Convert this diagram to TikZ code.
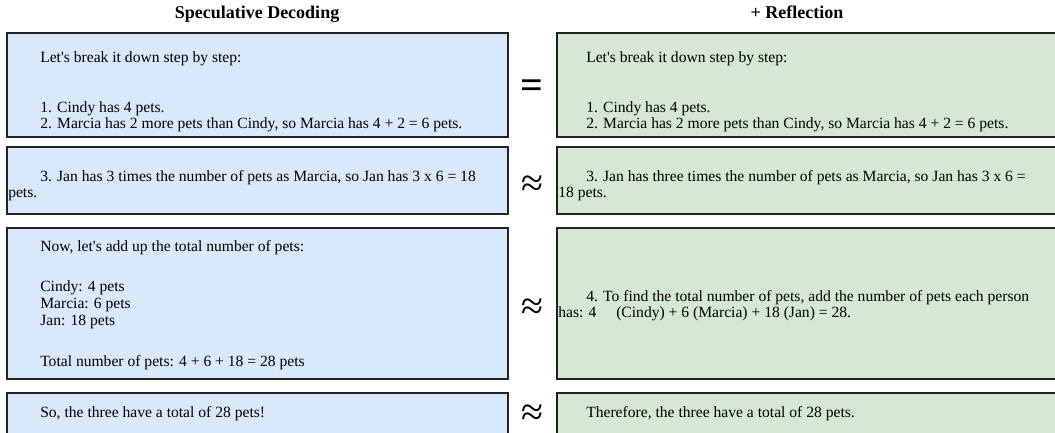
\documentclass[tikz,border=0pt]{standalone}
\usepackage{fontspec}
\setmainfont{Liberation Serif}
\usepackage{tikz}
\usetikzlibrary{positioning}
\usepackage{xcolor}
\definecolor{specblue}{HTML}{DAE8FC}
\definecolor{reflgreen}{HTML}{D5E8D4}
\definecolor{boxline}{HTML}{222222}
\newcommand{\aps}{\textquotesingle}

\tikzset{
  specbox/.style={draw=boxline, line width=1pt, fill=specblue},
  reflbox/.style={draw=boxline, line width=1pt, fill=reflgreen},
  txt/.style={anchor=base west, inner sep=0pt, font=\fontsize{11.7}{13}\selectfont},
  head/.style={anchor=base, inner sep=0pt, font=\fontsize{13.5}{15}\selectfont\bfseries},
  rel/.style={inner sep=0pt, font=\fontsize{30}{30}\selectfont},
}

\begin{document}
\begin{tikzpicture}[x=0.75pt, y=-0.75pt]
    \useasboundingbox (0,0) rectangle (1055,432);
    \clip (0,0) rectangle (1055,432);

    % 标题
    \node[head] (hspec) at (257,18) {Speculative Decoding};
    \node[head] (hrefl) at (797,18) {+ Reflection};

    % 左列：投机解码
    \begin{scope}[shift={(7,0)}]
        \draw[specbox] (0,33) rectangle (501,137);
        \node[txt] (s1a) at (33,62) {Let\aps s break it down step by step:};
        \node[txt] (s1b) at (33,112) {1. Cindy has 4 pets.};
        \node[txt] (s1c) at (33,128) {2. Marcia has 2 more pets than Cindy, so Marcia has 4 + 2 = 6 pets.};

        \draw[specbox] (0,147) rectangle (501,214);
        \node[txt] (s2a) at (33,181) {3. Jan has 3 times the number of pets as Marcia, so Jan has 3 x 6 = 18};
        \node[txt] (s2b) at (1,197) {pets.};

        \draw[specbox] (0,228) rectangle (501,379);
        \node[txt] (s3a) at (33,251) {Now, let\aps s add up the total number of pets:};
        \node[txt] (s3b) at (33,291) {Cindy: 4 pets};
        \node[txt] (s3c) at (33,308) {Marcia: 6 pets};
        \node[txt] (s3d) at (33,325) {Jan: 18 pets};
        \node[txt] (s3e) at (33,366) {Total number of pets: 4 + 6 + 18 = 28 pets};

        \draw[specbox] (0,393) rectangle (501,450);
        \node[txt] (s4a) at (33,417) {So, the three have a total of 28 pets!};
    \end{scope}

    % 关系符号
    \node[rel, font=\fontsize{30}{30}\selectfont\bfseries] (r1) at (532,89) {=};
    \node[rel] (r2) at (532,186) {≈};
    \node[rel] (r3) at (532,309) {≈};
    \node[rel] (r4) at (532,415) {≈};

    % 右列：加反思
    \begin{scope}[shift={(557,0)}]
        \draw[reflbox] (0,33) rectangle (501,137);
        \node[txt] (f1a) at (29,62) {Let\aps s break it down step by step:};
        \node[txt] (f1b) at (29,112) {1. Cindy has 4 pets.};
        \node[txt] (f1c) at (29,128) {2. Marcia has 2 more pets than Cindy, so Marcia has 4 + 2 = 6 pets.};

        \draw[reflbox] (0,147) rectangle (501,214);
        \node[txt] (f2a) at (29,181) {3. Jan has three times the number of pets as Marcia, so Jan has 3 x 6 =};
        \node[txt] (f2b) at (1,197) {18 pets.};

        \draw[reflbox] (0,228) rectangle (501,379);
        \node[txt] (f3a) at (29,301) {4. To find the total number of pets, add the number of pets each person};
        \node[txt] (f3b) at (1,317) {has: 4};
        \node[txt] (f3c) at (59,317) {(Cindy) + 6 (Marcia) + 18 (Jan) = 28.};

        \draw[reflbox] (0,393) rectangle (501,450);
        \node[txt] (f4a) at (29,417) {Therefore, the three have a total of 28 pets.};
    \end{scope}
\end{tikzpicture}
\end{document}
